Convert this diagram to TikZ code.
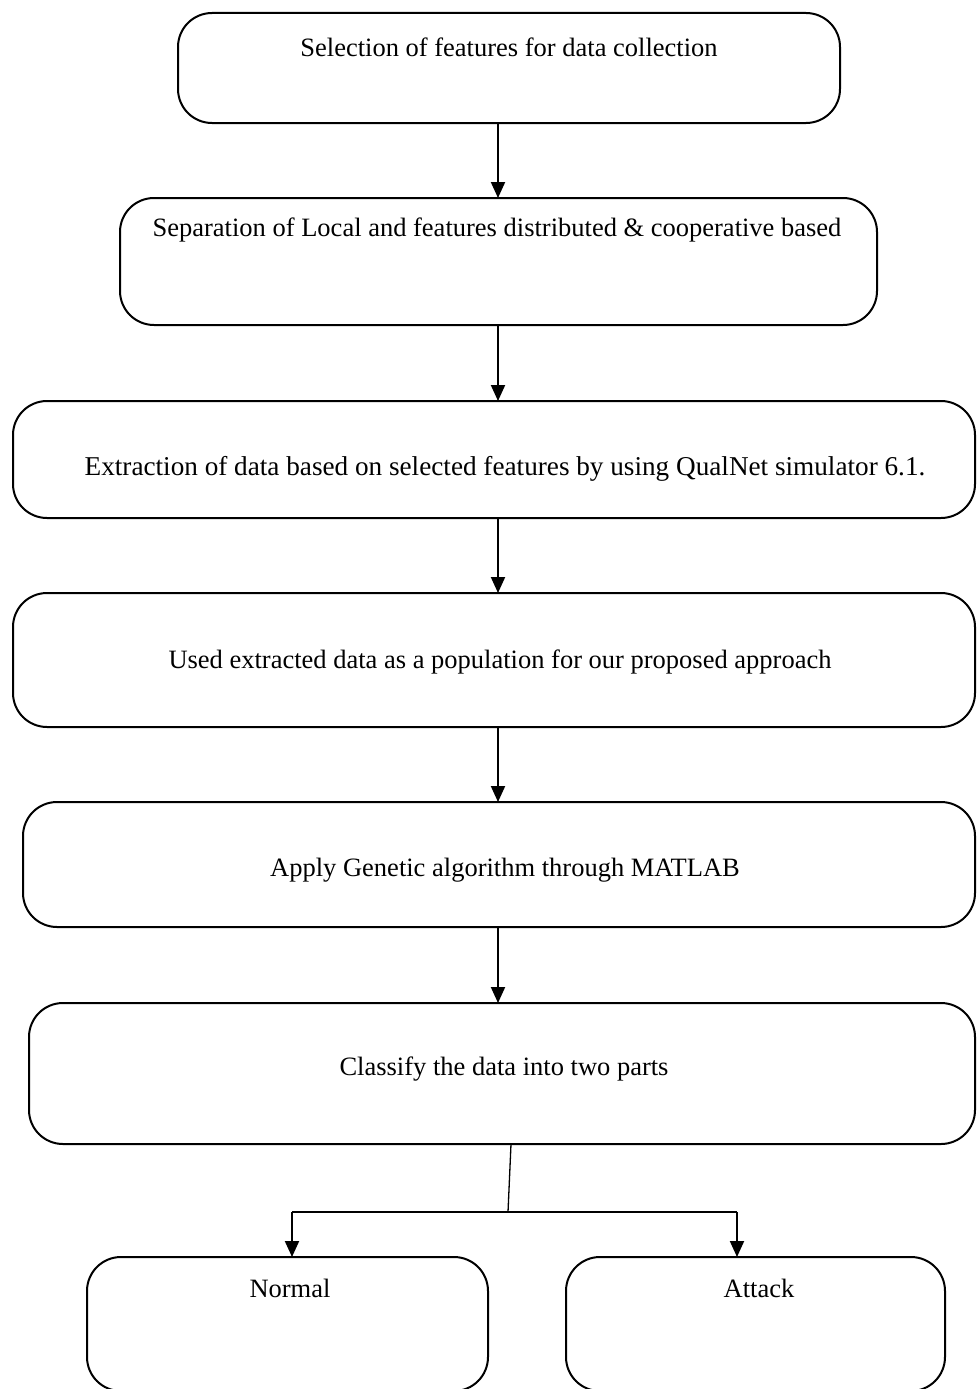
\documentclass[tikz,border=0pt]{standalone}
\usepackage{fontspec}
\setmainfont{Liberation Serif}
\usetikzlibrary{arrows.meta}
\begin{document}
\begin{tikzpicture}[x=1pt,y=-1pt,
  box/.style={draw,line width=2pt,rounded corners=34pt,inner sep=0pt,outer sep=0pt},
  lbl/.style={anchor=base,inner sep=0pt,font=\fontsize{26.5}{32}\selectfont},
  arr/.style={line width=2pt,-{Triangle[length=16pt,width=14pt]}},
  stem/.style={line width=1.3pt}]
\clip (0,0) rectangle (977,1389);
\fill[white] (0,0) rectangle (977,1389);
% boxes
\node[box,minimum width=662pt,minimum height=110pt] (b1) at (509,68) {};
\node[box,minimum width=757pt,minimum height=127pt] (b2) at (498.5,261.5) {};
\node[box,minimum width=962pt,minimum height=117pt] (b3) at (494,459.5) {};
\node[box,minimum width=962pt,minimum height=134pt] (b4) at (494,660) {};
\node[box,minimum width=952pt,minimum height=125pt] (b5) at (499,864.5) {};
\node[box,minimum width=946pt,minimum height=141pt] (b6) at (502,1073.5) {};
\node[box,minimum width=401pt,minimum height=134pt] (bn) at (287.5,1324) {};
\node[box,minimum width=379pt,minimum height=134pt] (ba) at (755.5,1324) {};
% texts
\node[lbl] (t1) at (509,57) {Selection of features for data collection};
\node[lbl] (t2) at (497,236) {Separation of Local and features distributed \& cooperative based};
\node[lbl,font=\fontsize{27.2}{32}\selectfont] (t3) at (505,475) {Extraction of data based on selected features by using QualNet simulator 6.1.};
\node[lbl] (t4) at (500,668) {Used extracted data as a population for our proposed approach};
\node[lbl] (t5) at (505,876) {Apply Genetic algorithm through MATLAB};
\node[lbl] (t6) at (504,1075) {Classify the data into two parts};
\node[lbl] (t7) at (290,1297) {Normal};
\node[lbl] (t8) at (759,1297) {Attack};
% connectors
\coordinate (ax) at (498,0);
\draw[arr] (b1.south -| ax) -- (b2.north -| ax);
\draw[arr] (b2.south -| ax) -- (b3.north -| ax);
\draw[arr] (b3.south -| ax) -- (b4.north -| ax);
\draw[arr] (b4.south -| ax) -- (b5.north -| ax);
\draw[arr] (b5.south -| ax) -- (b6.north -| ax);
\coordinate (s0) at (511,0);
\coordinate (br) at (508,1212);
\coordinate (xl) at (292,0);
\coordinate (xr) at (737,0);
\draw[stem] (b6.south -| s0) -- (br);
\draw[line width=2pt] (br -| xl) -- (br -| xr);
\draw[arr] (br -| xl) -- (bn.north -| xl);
\draw[arr] (br -| xr) -- (ba.north -| xr);
\end{tikzpicture}
\end{document}
